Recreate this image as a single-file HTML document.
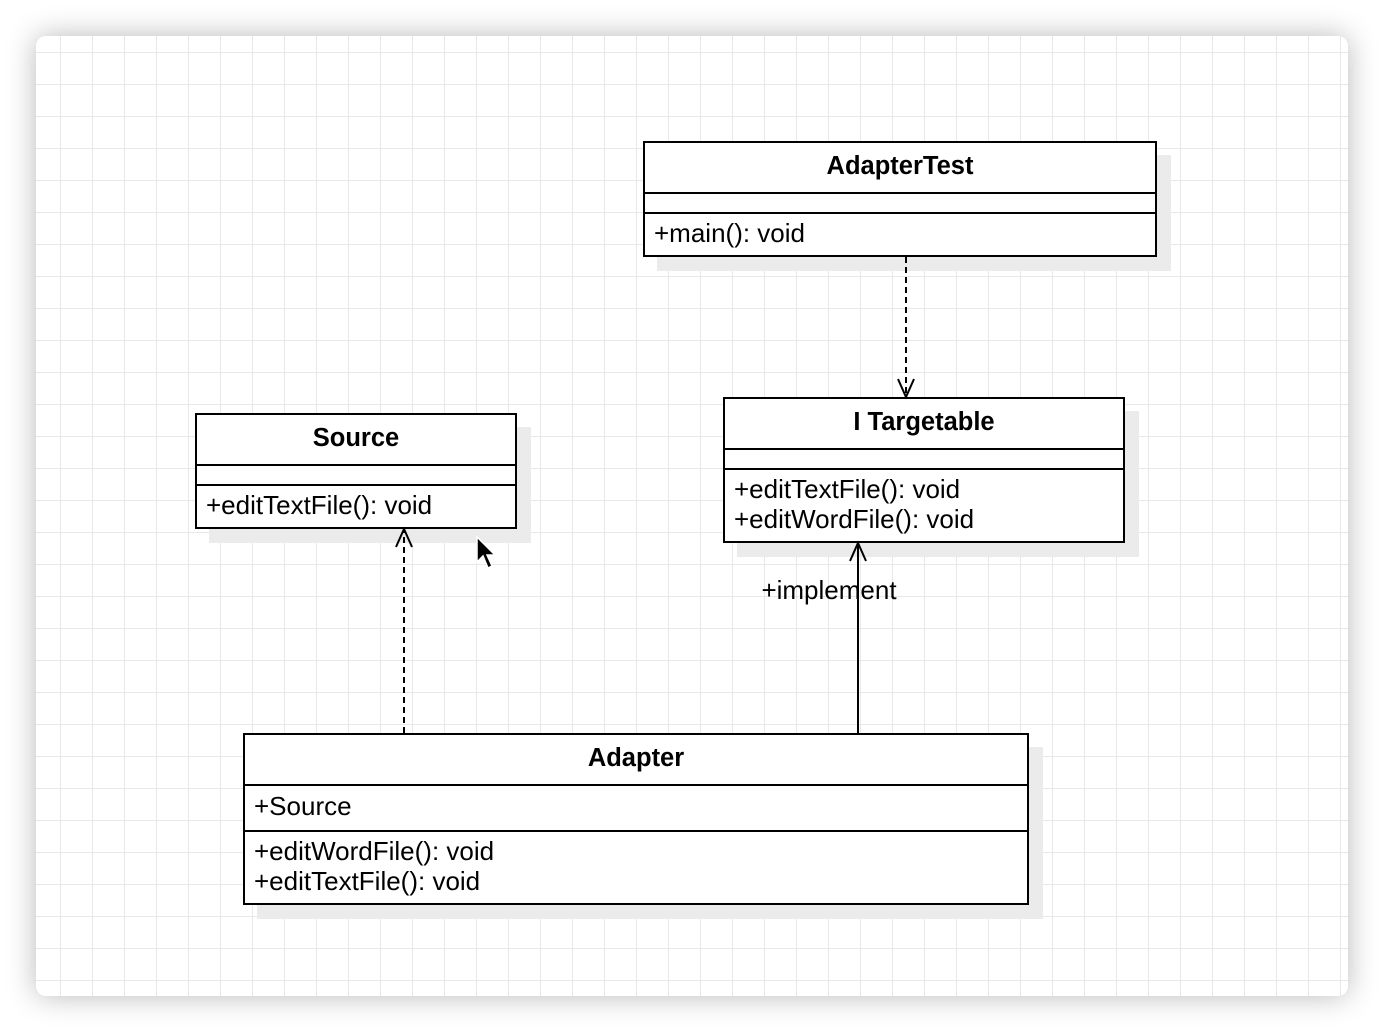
<!DOCTYPE html>
<html><head><style>
body{margin:0;width:1384px;height:1032px;background:#fff;position:relative;overflow:hidden;font-family:"Liberation Sans",Arial,sans-serif}
#panel{position:absolute;left:36px;top:36px;width:1312px;height:960px;border-radius:10px;box-shadow:0 0 30px rgba(0,0,0,0.28);
background-color:#fff;background-image:linear-gradient(#e8e8e8 1px,transparent 1px),linear-gradient(90deg,#e8e8e8 1px,transparent 1px);background-size:32px 32px;background-position:24px 16px}
.b{position:absolute;border:2px solid #000;background:#fff;box-sizing:border-box;box-shadow:14px 14px 0 #ebebeb}
.t{font-weight:bold;text-align:center;font-size:25.5px;border-bottom:2px solid #000;box-sizing:border-box}
.r{border-bottom:2px solid #000;box-sizing:border-box;font-size:26px;padding-left:9px}
.m{font-size:26px;padding-left:9px;line-height:30px}
</style></head><body>
<div id="panel"></div>
<div class="b" style="left:643px;top:141px;width:514px;height:116px">
 <div class="t" style="height:51px;line-height:47px">AdapterTest</div>
 <div class="r" style="height:20px"></div>
 <div class="m" style="padding-top:4px">+main(): void</div>
</div>
<div class="b" style="left:195px;top:413px;width:322px;height:116px">
 <div class="t" style="height:51px;line-height:47px">Source</div>
 <div class="r" style="height:20px"></div>
 <div class="m" style="padding-top:4px">+editTextFile(): void</div>
</div>
<div class="b" style="left:723px;top:397px;width:402px;height:146px">
 <div class="t" style="height:51px;line-height:47px">I Targetable</div>
 <div class="r" style="height:20px"></div>
 <div class="m" style="padding-top:4px">+editTextFile(): void<br>+editWordFile(): void</div>
</div>
<div class="b" style="left:243px;top:733px;width:786px;height:172px">
 <div class="t" style="height:51px;line-height:47px">Adapter</div>
 <div class="r" style="height:46px;line-height:40px">+Source</div>
 <div class="m" style="padding-top:4px">+editWordFile(): void<br>+editTextFile(): void</div>
</div>
<svg width="1384" height="1032" style="position:absolute;left:0;top:0">
 <g stroke="#000" stroke-width="2" fill="none">
  <line x1="906" y1="257" x2="906" y2="396" stroke-dasharray="6,4"/>
  <polyline points="898,379 906,397 914,379"/>
  <line x1="404" y1="733" x2="404" y2="530" stroke-dasharray="6,4"/>
  <polyline points="396,547 404,529 412,547"/>
  <line x1="858" y1="733" x2="858" y2="544"/>
  <polyline points="850,561 858,543 866,561"/>
 </g>
 <text x="829" y="599" font-size="26" text-anchor="middle" font-family="Liberation Sans, Arial, sans-serif">+implement</text>
 <polygon points="477,537 477,562 483,556 488,568 492,566 487,555 495,555" fill="#000" stroke="#fff" stroke-width="1.5"/>
</svg>
</body></html>
